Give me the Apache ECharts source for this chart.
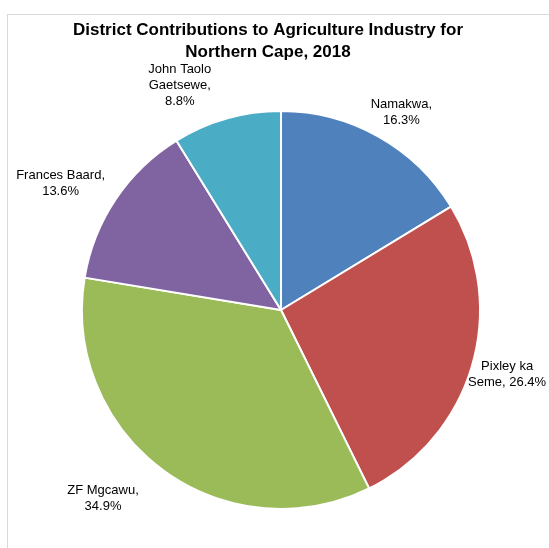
<!DOCTYPE html>
<html>
<head>
<meta charset="utf-8">
<script src="https://cdn.jsdelivr.net/npm/echarts@6/dist/echarts.min.js"></script>
<style>
  html, body { margin: 0; padding: 0; background: #fff; }
  #main { width: 549px; height: 548px; }
</style>
</head>
<body>
<div id="main"></div>
<script>
// 数据
var districts = ['Namakwa', 'Pixley ka Seme', 'ZF Mgcawu', 'Frances Baard', 'John Taolo Gaetsewe'];
var shares = [16.3, 26.4, 34.9, 13.6, 8.8];
var labelText = ['Namakwa,', 'Pixley ka\nSeme,', 'ZF Mgcawu,\n', 'Frances Baard,\n', 'John Taolo\nGaetsewe,\n'];
var colors = ['#4F81BD', '#C0504D', '#9BBB59', '#8064A2', '#4BACC6'];

// 标签位置 (到圆心的距离, 角度 从正上方顺时针)
var cx = 281, cy = 310, radius = 199;
var labelDist = [231, 235, 259, 254, 246];
var labelAngle = [31.4, 105.8, 223.4, 299.8, 335.7];

var myChartPie = echarts.init(document.getElementById('main'));

var pieData = districts.map(function (name, i) {
    return { name: name, value: shares[i], itemStyle: { color: colors[i] } };
});

var optionPie = {
    animation: false,
    title: {
        text: 'District Contributions to Agriculture Industry for\nNorthern Cape, 2018',
        left: 268,
        top: 19,
        textAlign: 'center',
        padding: 0,
        textStyle: {
            fontFamily: 'Liberation Sans',
            fontSize: 17,
            fontWeight: 'bold',
            color: '#000',
            lineHeight: 22
        }
    },
    graphic: [
        { type: 'line', shape: { x1: 7, y1: 14.5, x2: 549, y2: 14.5 }, style: { stroke: '#d9d9d9', lineWidth: 1 } },
        { type: 'line', shape: { x1: 7.5, y1: 14, x2: 7.5, y2: 548 }, style: { stroke: '#d9d9d9', lineWidth: 1 } }
    ],
    series: [
        {
            type: 'pie',
            center: [cx, cy],
            radius: radius,
            startAngle: 90,
            clockwise: true,
            data: pieData,
            itemStyle: {
                borderColor: '#fff',
                borderWidth: 2
            },
            label: {
                show: true,
                position: 'outside',
                overflow: 'none',
                fontFamily: 'Liberation Sans',
                fontSize: 13,
                lineHeight: 16,
                color: '#000',
                align: 'center',
                formatter: function (p) {
                    var t = labelText[p.dataIndex];
                    var sep = t.charAt(t.length - 1) === '\n' ? '' : (p.dataIndex === 0 ? '\n' : ' ');
                    return t + sep + shares[p.dataIndex].toFixed(1) + '%';
                }
            },
            labelLine: { show: false },
            labelLayout: function (params) {
                var i = params.dataIndex;
                var a = labelAngle[i] * Math.PI / 180;
                return {
                    x: cx + labelDist[i] * Math.sin(a),
                    y: cy - labelDist[i] * Math.cos(a),
                    width: 120,
                    align: 'center',
                    verticalAlign: 'middle'
                };
            }
        }
    ]
};
myChartPie.setOption(optionPie);
</script>
</body>
</html>
